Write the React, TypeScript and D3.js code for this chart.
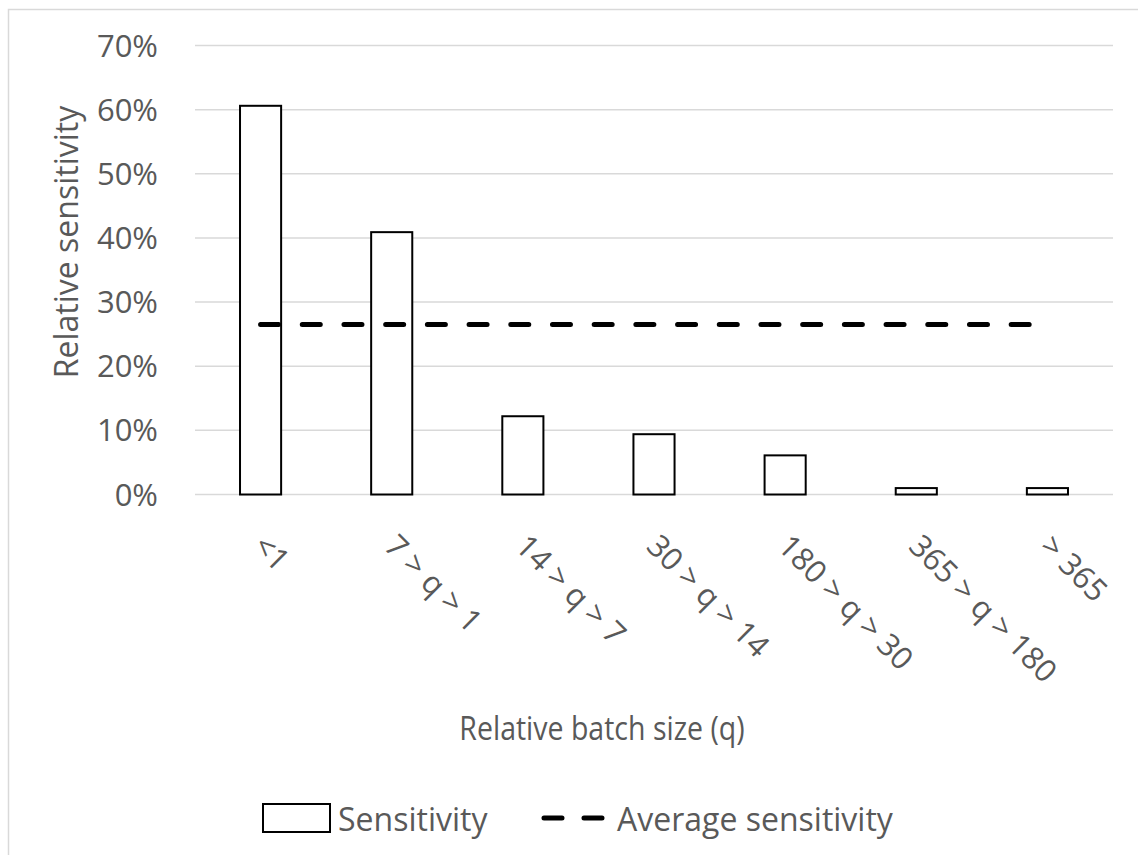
import React, { useRef, useEffect } from "react";
import * as d3 from "d3";

const categories = ["<1", "7 > q > 1", "14 > q > 7", "30 > q > 14", "180 > q > 30", "365 > q > 180", "> 365"];
const sensitivity = [0.606, 0.409, 0.122, 0.094, 0.061, 0.01, 0.01];
const averageSensitivity = 0.265;
const yTicks = [0, 0.1, 0.2, 0.3, 0.4, 0.5, 0.6, 0.7];

const FONT = "'Open Sans', 'Noto Sans', sans-serif";
const TEXT = "#595959";

const App = () => {
  const ref = useRef<SVGSVGElement>(null);

  useEffect(() => {
    const svg = d3.select(ref.current);
    svg.selectAll("*").remove();

    const W = 1138;
    const H = 855;
    const left = 195;
    const right = 1113;
    const top = 45.5;
    const bottom = 494.5;

    // chart area border
    svg
      .append("rect")
      .attr("x", 8.5)
      .attr("y", 9.5)
      .attr("width", W + 10)
      .attr("height", H + 10)
      .attr("fill", "white")
      .attr("stroke", "#d9d9d9")
      .attr("stroke-width", 1.5);

    const x = d3.scaleBand().domain(categories).range([left, right]).padding(0);
    const y = d3.scaleLinear().domain([0, 0.7]).range([bottom, top]);
    const barW = x.bandwidth() / (1 + 2.19);

    const g = svg.append("g");

    // gridlines
    g.selectAll(".grid")
      .data(yTicks)
      .enter()
      .append("line")
      .attr("x1", left)
      .attr("x2", right)
      .attr("y1", (d) => y(d))
      .attr("y2", (d) => y(d))
      .attr("stroke", "#d9d9d9")
      .attr("stroke-width", 1.5);

    // y tick labels
    g.selectAll(".ytick")
      .data(yTicks)
      .enter()
      .append("text")
      .attr("x", 158)
      .attr("y", (d) => y(d) + 11)
      .attr("text-anchor", "end")
      .style("font-family", FONT)
      .style("font-size", "31px")
      .style("fill", TEXT)
      .text((d) => d3.format(".0%")(d));

    // bars
    g.selectAll(".bar")
      .data(sensitivity)
      .enter()
      .append("rect")
      .attr("x", (d, i) => x(categories[i])! + (x.bandwidth() - barW) / 2)
      .attr("y", (d) => y(d))
      .attr("width", barW)
      .attr("height", (d) => y(0) - y(d))
      .attr("fill", "white")
      .attr("stroke", "#000")
      .attr("stroke-width", 2);

    // average line
    const cx = (c: string) => x(c)! + x.bandwidth() / 2;
    g.append("line")
      .attr("x1", cx(categories[0]))
      .attr("x2", cx(categories[categories.length - 1]))
      .attr("y1", y(averageSensitivity))
      .attr("y2", y(averageSensitivity))
      .attr("stroke", "#000")
      .attr("stroke-width", 5)
      .attr("stroke-linecap", "round")
      .attr("stroke-dasharray", "18 23.7");

    // x labels, rotated
    g.selectAll(".xtick")
      .data(categories)
      .enter()
      .append("text")
      .attr("transform", (d) => `translate(${cx(d) - 9},548) rotate(45)`)
      .attr("text-anchor", "start")
      .style("font-family", FONT)
      .style("font-size", "31px")
      .style("fill", TEXT)
      .text((d) => d);

    // axis titles
    svg
      .append("text")
      .attr("transform", "translate(602,740) scale(1,1.15)")
      .attr("text-anchor", "middle")
      .style("font-family", FONT)
      .style("font-size", "28.5px")
      .style("fill", TEXT)
      .text("Relative batch size (q)");

    svg
      .append("text")
      .attr("transform", "translate(78,242) rotate(-90)")
      .attr("text-anchor", "middle")
      .style("font-family", FONT)
      .style("font-size", "32px")
      .style("fill", TEXT)
      .text("Relative sensitivity");

    // legend
    const lg = svg.append("g");
    lg.append("rect")
      .attr("x", 263)
      .attr("y", 804)
      .attr("width", 67)
      .attr("height", 28)
      .attr("fill", "white")
      .attr("stroke", "#000")
      .attr("stroke-width", 2);
    lg.append("text")
      .attr("x", 338)
      .attr("y", 831)
      .style("font-family", FONT)
      .style("font-size", "32px")
      .style("fill", TEXT)
      .text("Sensitivity");
    lg.append("line")
      .attr("x1", 544)
      .attr("x2", 602)
      .attr("y1", 818)
      .attr("y2", 818)
      .attr("stroke", "#000")
      .attr("stroke-width", 5)
      .attr("stroke-linecap", "round")
      .attr("stroke-dasharray", "18 22");
    lg.append("text")
      .attr("x", 617)
      .attr("y", 831)
      .style("font-family", FONT)
      .style("font-size", "32px")
      .style("fill", TEXT)
      .text("Average sensitivity");
  }, []);

  return (
    <div style={{ position: "absolute", left: 0, top: 0 }}>
      <svg ref={ref} width={1138} height={855} style={{ display: "block" }} />
    </div>
  );
};

export default App;
